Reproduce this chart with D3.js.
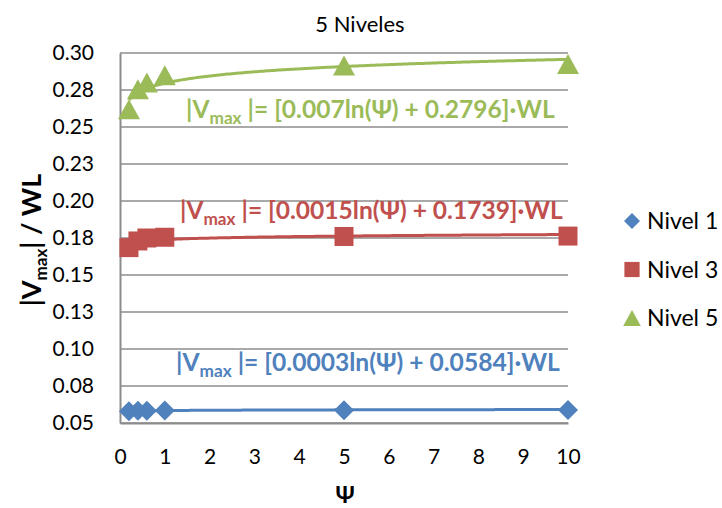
<!DOCTYPE html>
<html>
<head>
<meta charset="utf-8">
<script src="https://cdn.jsdelivr.net/npm/d3@7/dist/d3.min.js"></script>
<style>
  html, body { margin: 0; padding: 0; background: #fff; }
  svg { display: block; font-family: Lato, "Open Sans", sans-serif; }
</style>
</head>
<body>
<svg id="chart" width="722" height="508"></svg>
<script>
// Ψ values sampled for each level
const psi = [0.2, 0.4, 0.6, 1, 5, 10];
const nivel1 = [0.0580, 0.0582, 0.0583, 0.0584, 0.0586, 0.0587];
const nivel3 = [0.1685, 0.1730, 0.1750, 0.1755, 0.1760, 0.1763];
const nivel5 = [0.2620, 0.2755, 0.2800, 0.2850, 0.2915, 0.2925];

// logarithmic trend coefficients: a·ln(Ψ) + b
const trend1 = [0.0003, 0.0584];
const trend3 = [0.0015, 0.1739];
const trend5 = [0.007, 0.2796];

const seriesNames = ["Nivel 1", "Nivel 3", "Nivel 5"];
const xTicks = [0, 1, 2, 3, 4, 5, 6, 7, 8, 9, 10];
const yTicks = [0.05, 0.075, 0.10, 0.125, 0.15, 0.175, 0.20, 0.225, 0.25, 0.275, 0.30];
const yTickLabels = ["0.05", "0.08", "0.10", "0.13", "0.15", "0.18", "0.20", "0.23", "0.25", "0.28", "0.30"];

const colors = ["#4F81BD", "#C0504D", "#9BBB59"];

const svg = d3.select("#chart");
const plot = { left: 120, right: 568, top: 53, bottom: 423 };

const x = d3.scaleLinear().domain([0, 10]).range([plot.left, plot.right]);
const y = d3.scaleLinear().domain([0.05, 0.30]).range([plot.bottom, plot.top]);

// horizontal gridlines
svg.append("g").selectAll("line").data(yTicks).join("line")
  .attr("x1", plot.left).attr("x2", plot.right)
  .attr("y1", d => y(d)).attr("y2", d => y(d))
  .attr("stroke", "#8C8C8C").attr("stroke-width", 1.6);

// axes
const yAxis = svg.append("g").attr("transform", `translate(${plot.left},0)`)
  .call(d3.axisLeft(y).tickValues(yTicks).tickSize(0).tickPadding(26)
    .tickFormat((d, i) => yTickLabels[i]));
yAxis.select(".domain").attr("stroke", "#8C8C8C").attr("stroke-width", 2);
yAxis.selectAll("text").attr("font-size", 21).attr("fill", "#000")
  .attr("font-family", "Lato, sans-serif");

const xAxis = svg.append("g").attr("transform", `translate(0,${plot.bottom})`)
  .call(d3.axisBottom(x).tickValues(xTicks).tickSize(0).tickPadding(26));
xAxis.select(".domain").attr("stroke", "#8C8C8C").attr("stroke-width", 2);
xAxis.selectAll("text").attr("font-size", 21).attr("fill", "#000")
  .attr("font-family", "Lato, sans-serif");

// logarithmic trend curves
const trends = [trend1, trend3, trend5];
const curvePts = d3.range(0, 201).map(i => 0.2 + i * (10 - 0.2) / 200);
const line = d3.line().x(d => x(d[0])).y(d => y(d[1]));
trends.forEach((t, k) => {
  svg.append("path")
    .datum(curvePts.map(p => [p, t[0] * Math.log(p) + t[1]]))
    .attr("d", line).attr("fill", "none")
    .attr("stroke", colors[k]).attr("stroke-width", 3);
});

// marker shapes: diamond, square, triangle
function markerPath(k, size) {
  if (k === 0) {
    const r = size;
    return `M0,${-r}L${r},0L0,${r}L${-r},0Z`;
  }
  if (k === 1) {
    const r = size * 0.95;
    return `M${-r},${-r}H${r}V${r}H${-r}Z`;
  }
  const w = size * 1.1, h = size;
  return `M0,${-h}L${w},${h}L${-w},${h}Z`;
}
const series = [nivel1, nivel3, nivel5];
series.forEach((vals, k) => {
  svg.append("g").selectAll("path").data(vals).join("path")
    .attr("d", markerPath(k, 10))
    .attr("transform", (d, i) => `translate(${x(psi[i])},${y(d)})`)
    .attr("fill", colors[k]);
});

// trend equation labels, sized to their span
const eqs = [
  { coef: trend1, yPos: 371, x0: 176, width: 384 },
  { coef: trend3, yPos: 219, x0: 180, width: 383 },
  { coef: trend5, yPos: 118, x0: 186, width: 369 }
];
eqs.forEach((e, k) => {
  const fs = 22;
  const t = svg.append("text").attr("x", e.x0).attr("y", e.yPos)
    .attr("fill", colors[k]).attr("font-weight", "bold")
    .attr("font-size", fs).attr("font-family", "Lato, sans-serif")
    .attr("xml:space", "preserve");
  t.append("tspan").text("|V");
  const sub = t.append("tspan").attr("font-size", fs * 0.7).attr("dy", 6).text("max");
  t.append("tspan").attr("dy", -6).text(` |= [${e.coef[0]}ln(Ψ) + ${e.coef[1]}]·WL`);
  const w = t.node().getComputedTextLength();
  const f2 = fs * e.width / w;
  t.attr("font-size", f2);
  sub.attr("font-size", f2 * 0.7);
});

// title
svg.append("text").attr("x", 360).attr("y", 32).attr("text-anchor", "middle")
  .attr("font-size", 22).attr("font-family", "Lato, sans-serif").text("5 Niveles");

// axis titles
svg.append("text").attr("x", 345).attr("y", 503).attr("text-anchor", "middle")
  .attr("font-size", 23).attr("font-weight", "bold").text("Ψ");

const yt = svg.append("text")
  .attr("transform", "translate(41,240) rotate(-90)")
  .attr("text-anchor", "middle").attr("font-size", 27).attr("font-weight", "bold");
yt.append("tspan").text("|V");
yt.append("tspan").attr("font-size", 17).attr("dy", 6).text("max");
yt.append("tspan").attr("dy", -6).text("| / WL");

// legend
const legend = svg.append("g");
seriesNames.forEach((name, k) => {
  const cy = 221 + k * 48.5;
  legend.append("path").attr("d", markerPath(k, 8))
    .attr("transform", `translate(632,${cy})`).attr("fill", colors[k]);
  legend.append("text").attr("x", 647).attr("y", cy + 8)
    .attr("font-size", 23).attr("font-family", "Lato, sans-serif").text(name);
});
</script>
</body>
</html>
